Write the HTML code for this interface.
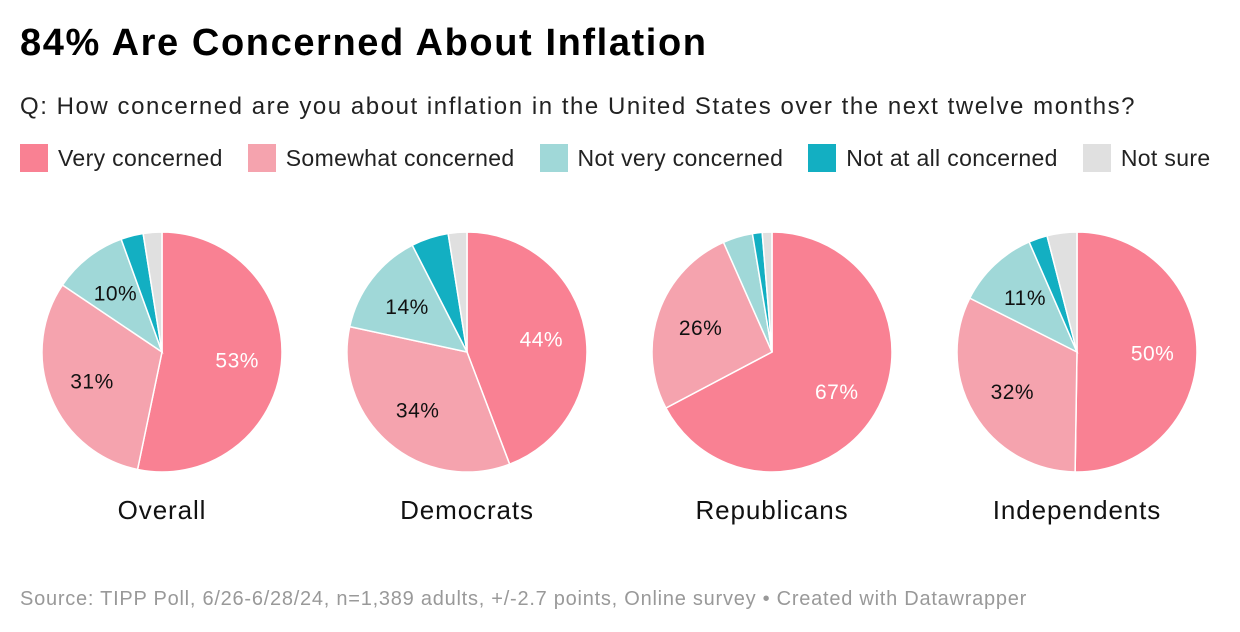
<!DOCTYPE html>
<html><head><meta charset="utf-8"><style>
body{margin:0;width:1240px;height:632px;background:#fff;font-family:"Liberation Sans",Arial,sans-serif;overflow:hidden;position:relative}
.t{position:absolute;left:20px;top:22px;font-size:38px;font-weight:bold;color:#000;letter-spacing:1.6px;white-space:nowrap}
.s{position:absolute;left:20px;top:93px;font-size:24px;color:#222;letter-spacing:1.55px;white-space:nowrap}
.lg{position:absolute;top:144px;left:20px;display:flex;font-size:23px;color:#222;letter-spacing:0.35px;white-space:nowrap}
.li{display:flex;align-items:center;margin-right:25px}
.sw{width:28px;height:28px;margin-right:10px}
.f{position:absolute;left:20px;top:588px;font-size:20px;color:#999;letter-spacing:0.75px;white-space:nowrap}
</style></head><body>
<div class="t">84% Are Concerned About Inflation</div>
<div class="s">Q: How concerned are you about inflation in the United States over the next twelve months?</div>
<div class="lg">
<div class="li"><div class="sw" style="background:#f98193"></div>Very concerned</div>
<div class="li"><div class="sw" style="background:#f5a3ae"></div>Somewhat concerned</div>
<div class="li"><div class="sw" style="background:#a0d8d8"></div>Not very concerned</div>
<div class="li"><div class="sw" style="background:#13afc2"></div>Not at all concerned</div>
<div class="li"><div class="sw" style="background:#e0e0e0"></div>Not sure</div>
</div>
<svg id="c" width="1240" height="632" style="position:absolute;left:0;top:0"></svg>
<div class="f">Source: TIPP Poll, 6/26-6/28/24, n=1,389 adults, +/-2.7 points, Online survey • Created with Datawrapper</div>
<script>
const groups=["Overall","Democrats","Republicans","Independents"];
const veryConcerned=[53,44,67,50];
const somewhatConcerned=[31,34,26,32];
const notVeryConcerned=[10,14,4,11];
const notAtAllConcerned=[3,5,1.3,2.5];
const notSure=[2.5,2.5,1.3,4];
const colors=["#f98193","#f5a3ae","#a0d8d8","#13afc2","#e0e0e0"];
const svg=document.getElementById('c');
const NS="http://www.w3.org/2000/svg";
const R=120,cy=352;
groups.forEach((g,i)=>{
  const cx=162+i*305;
  const vals=[veryConcerned[i],somewhatConcerned[i],notVeryConcerned[i],notAtAllConcerned[i],notSure[i]];
  const tot=vals.reduce((a,b)=>a+b,0);
  let a0=0;
  vals.forEach((v,k)=>{
    const a1=a0+v/tot*2*Math.PI;
    const p=(a)=>[cx+R*Math.sin(a),cy-R*Math.cos(a)];
    const [x0,y0]=p(a0),[x1,y1]=p(a1);
    const path=document.createElementNS(NS,'path');
    path.setAttribute('d',`M${cx},${cy}L${x0},${y0}A${R},${R} 0 ${a1-a0>Math.PI?1:0} 1 ${x1},${y1}Z`);
    path.setAttribute('fill',colors[k]);path.setAttribute('stroke','#fff');path.setAttribute('stroke-width','1.5');
    
    
    svg.appendChild(path);
    if(v>=8){
      const m=(a0+a1)/2,d=R*0.63;
      const t=document.createElementNS(NS,'text');
      t.setAttribute('x',cx+d*Math.sin(m));t.setAttribute('y',cy-d*Math.cos(m)+8);
      t.setAttribute('text-anchor','middle');t.setAttribute('font-size','21');
      t.setAttribute('letter-spacing','0.5');
      t.setAttribute('fill',k==0?'#fff':'#111');
      
      
      t.textContent=Math.round(v)+'%';svg.appendChild(t);
    }
    a0=a1;
  });
  const l=document.createElementNS(NS,'text');
  l.setAttribute('x',cx);l.setAttribute('y',519);l.setAttribute('text-anchor','middle');
  l.setAttribute('font-size','26');l.setAttribute('fill','#111');
  l.setAttribute('letter-spacing','0.9');
  
  
  l.textContent=g;svg.appendChild(l);
});
</script>
</body></html>
